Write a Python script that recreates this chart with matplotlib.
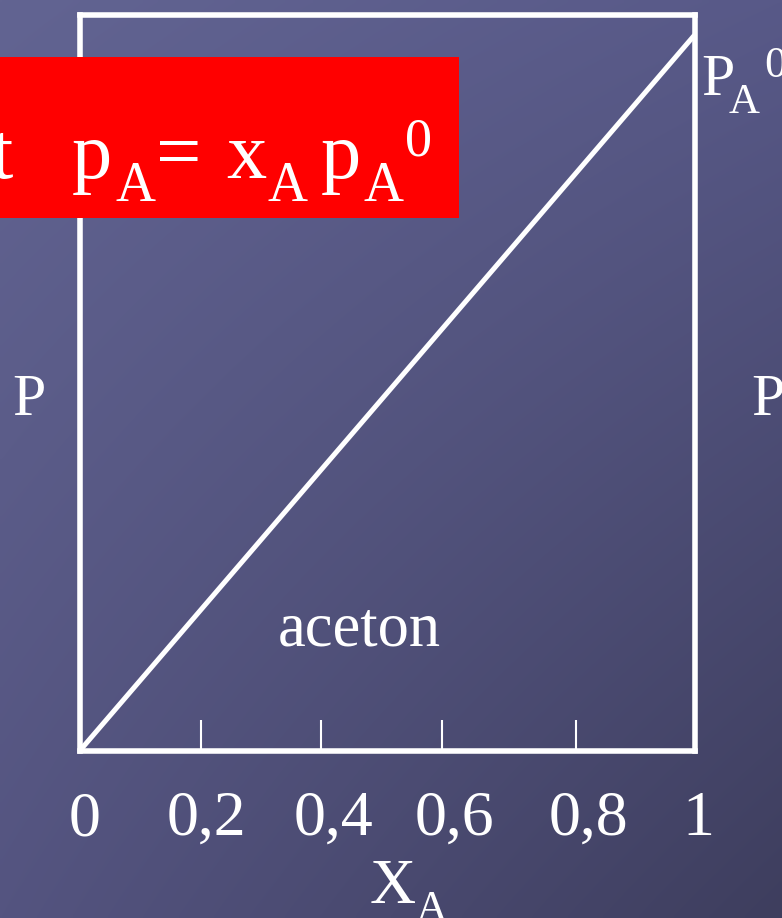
import numpy as np
import matplotlib
matplotlib.use("Agg")
import matplotlib.pyplot as plt
import matplotlib.transforms as mtransforms
from matplotlib.patches import Rectangle

# data
x_A = [0.0, 1.0]
p_A0 = 0.972
p_A = [0.0, p_A0]
tick_pos = [0.197, 0.393, 0.589, 0.807]
xtick_labels = ['0', '0,2', '0,4', '0,6', '0,8', '1']
label_x = [0.008, 0.205, 0.413, 0.610, 0.827, 1.006]

W, H = 782, 918
plt.rcParams['font.family'] = ['Liberation Serif', 'DejaVu Serif']
fig = plt.figure(figsize=(W / 100, H / 100), dpi=100)


def fx(px):
    return px / W


def fy(py):
    return 1 - py / H


# gradient background
bg = fig.add_axes([0, 0, 1, 1], zorder=-1)
tl = np.array([98, 100, 146]) / 255
tr = np.array([88, 89, 136]) / 255
bl = np.array([84, 84, 128]) / 255
br = np.array([62, 62, 94]) / 255
u = np.linspace(0, 1, 200)[None, :, None]
v = np.linspace(0, 1, 200)[:, None, None]
img = (1 - v) * ((1 - u) * tl + u * tr) + v * ((1 - u) * bl + u * br)
bg.imshow(img, extent=[0, 1, 0, 1], aspect='auto', interpolation='bilinear')
bg.axis('off')

# main box
ax = fig.add_axes([fx(80), fy(750.5), 614.5 / W, 736 / H])
ax.set_facecolor('none')
ax.set_xlim(0, 1)
ax.set_ylim(0, 1)
for s in ax.spines.values():
    s.set_color('white')
    s.set_linewidth(4)
ax.plot(x_A, p_A, color='white', lw=3.6, solid_capstyle='butt')
ax.set_xticks(tick_pos)
ax.set_xticklabels([])
ax.set_yticks([])
ax.tick_params(axis='x', direction='in', length=22, width=1.5, color='white')

trans = mtransforms.blended_transform_factory(ax.transData, fig.transFigure)
for xv, lab in zip(label_x, xtick_labels):
    ax.text(xv, fy(835), lab, transform=trans, ha='center', va='baseline',
            fontsize=46, color='white', clip_on=False)

txt = dict(color='white', va='baseline', zorder=6)
fig.text(fx(370), fy(903), 'X', fontsize=46, **txt)
fig.text(fx(416), fy(921), 'A', fontsize=32, **txt)
fig.text(fx(29), fy(415), 'P', fontsize=43, ha='center', **txt)
fig.text(fx(751), fy(415), 'P', fontsize=43, ha='left', **txt)
fig.text(fx(359.5), fy(645), 'aceton', fontsize=45, ha='center', **txt)

# P_A^0 label
fig.text(fx(701), fy(95), 'P', fontsize=43, **txt)
fig.text(fx(729), fy(113), 'A', fontsize=31, **txt)
fig.text(fx(764), fy(77), '0', fontsize=32, **txt)

# red formula box
fig.add_artist(Rectangle((0, fy(218)), fx(459), 161 / H, transform=fig.transFigure,
                         facecolor='#ff0000', edgecolor='none', zorder=5))
fig.text(fx(13), fy(178), 't', fontsize=58, ha='right', **txt)
fig.text(fx(72), fy(178), 'p', fontsize=58, **txt)
fig.text(fx(116), fy(201), 'A', fontsize=40, **txt)
fig.text(fx(156), fy(178), '=', fontsize=58, **txt)
fig.text(fx(226), fy(178), 'x', fontsize=58, **txt)
fig.text(fx(268), fy(201), 'A', fontsize=40, **txt)
fig.text(fx(321), fy(178), 'p', fontsize=58, **txt)
fig.text(fx(363), fy(201), 'A', fontsize=40, **txt)
fig.text(fx(405), fy(155), '0', fontsize=39, **txt)

fig.savefig('out.png', dpi=100)
